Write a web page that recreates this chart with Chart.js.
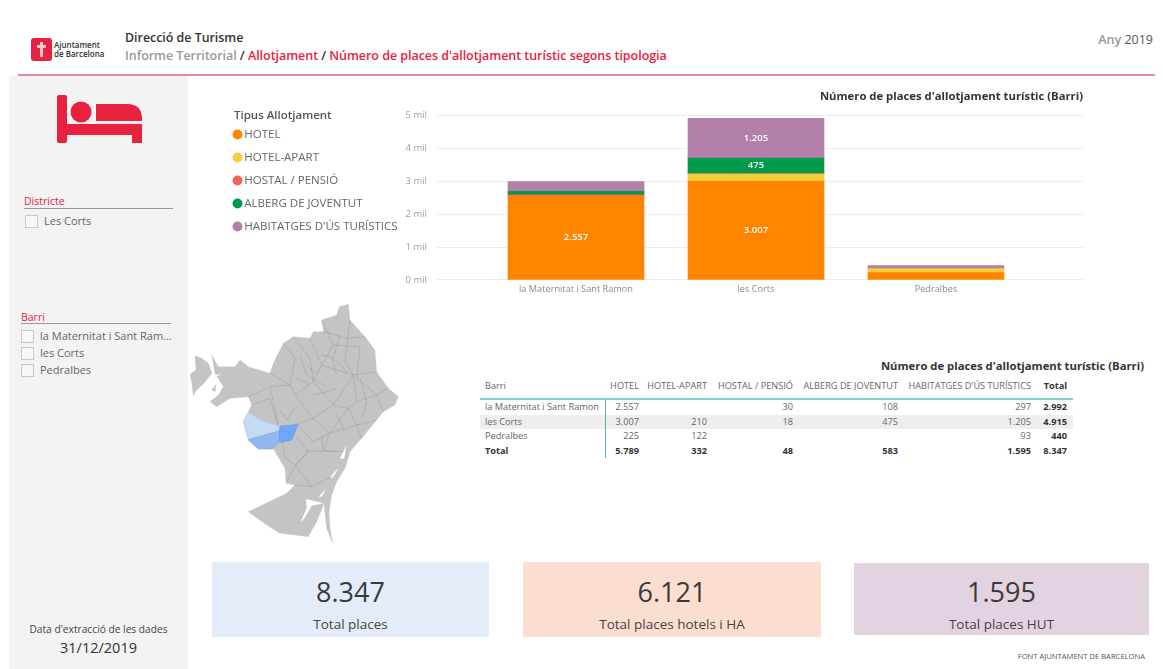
<!DOCTYPE html>
<html lang="ca">
<head>
<meta charset="utf-8">
<title>Número de places d'allotjament turístic</title>
<script src="https://cdn.jsdelivr.net/npm/chart.js@4"></script>
<style>
    html, body { margin: 0; padding: 0; background: #fff; }
    body { width: 1163px; height: 669px; position: relative; overflow: hidden; font-family: "Open Sans", sans-serif; color: #333; }
    .abs { position: absolute; white-space: nowrap; }
    .sidebar { left: 9px; top: 76px; width: 179px; height: 593px; background: #f3f3f3; }
    .rule { left: 18px; top: 74px; width: 1137px; height: 2px; background: #e8899b; }
    .slicer-title { color: #e8213f; font-size: 10.5px; line-height: 14px; }
    .slicer-line { height: 1px; background: #999; }
    .box { width: 11px; height: 11px; border: 1px solid #c8c8c8; background: #f7f7f7; }
    .slicer-item { color: #666; font-size: 11px; line-height: 14px; }
    .card { text-align: center; }
    .card .num { position: absolute; left: 0; right: 0; font-size: 27px; line-height: 34px; color: #3a3a3a; }
    .card .lab { position: absolute; left: 0; right: 0; font-size: 13.5px; line-height: 20px; color: #444; }
    #taula { left: 480px; top: 378px; border-collapse: collapse; font-size: 9.2px; color: #666; table-layout: fixed; }
    #taula th { font-weight: 400; height: 14px; padding: 0 2px 6px 0; text-align: right; border-bottom: 2px solid #7fd0cc; }
    #taula td { height: 14.5px; line-height: 14px; padding: 0 2px 0 0; text-align: right; }
    #taula th:first-child, #taula td:first-child { text-align: left; padding-left: 5px; }
    #taula td:first-child { border-right: 1px solid #4fb8b2; }
    #taula th:last-child, #taula td:last-child { padding-right: 6px; }
    #taula tr.alt td { background: #eee; }
    #taula tr.tot td { font-weight: 700; color: #333; }
    #taula .t { font-weight: 700; color: #333; }
</style>
</head>
<body>
<div class="abs sidebar"></div>
<div class="abs rule"></div>

<svg class="abs" style="left:31px;top:38px" width="21" height="23" viewBox="0 0 21 23">
    <rect width="21" height="23" rx="3" fill="#e8213f"/>
    <path d="M9 4h3v3h3v3h-3v9H9v-9H6V7h3z" fill="#f7c9cf"/>
</svg>
<div class="abs" style="left:54px;top:40px;font-size:8px;line-height:9px;font-weight:600;color:#333">Ajuntament<br>de Barcelona</div>
<div class="abs" style="left:125px;top:29px;font-size:12.4px;line-height:18px;font-weight:600;color:#333">Direcció de Turisme</div>
<div class="abs" style="left:125px;top:47px;font-size:12.5px;line-height:18px;font-weight:600;letter-spacing:-0.04px;color:#e8213f"><span style="color:#999">Informe Territorial</span><span style="color:#333"> / </span>Allotjament<span style="color:#333"> / </span>Número de places d'allotjament turístic segons tipologia</div>
<div class="abs" style="right:10px;top:31px;font-size:12.5px;line-height:18px;color:#555"><span style="color:#999;font-weight:600">Any</span> 2019</div>

<svg class="abs" style="left:57px;top:95px" width="86" height="49" viewBox="0 0 86 49" fill="#e8213f">
    <rect x="0" y="0" width="10" height="48" rx="2"/>
    <rect x="0" y="29" width="85" height="11"/>
    <rect x="75" y="29" width="10" height="19"/>
    <circle cx="24" cy="17" r="10.5"/>
    <path d="M39 9h31q15 0 15 15v2H39z"/>
</svg>

<div class="abs slicer-title" style="left:24px;top:194px">Districte</div>
<div class="abs slicer-line" style="left:24px;top:208px;width:149px"></div>
<div class="abs box" style="left:25px;top:215px"></div>
<div class="abs slicer-item" style="left:44px;top:214px">Les Corts</div>

<div class="abs slicer-title" style="left:21px;top:310px">Barri</div>
<div class="abs slicer-line" style="left:21px;top:323px;width:150px"></div>
<div class="abs box" style="left:21px;top:330px"></div>
<div class="abs slicer-item" style="left:40px;top:329px">la Maternitat i Sant Ram...</div>
<div class="abs box" style="left:21px;top:347px"></div>
<div class="abs slicer-item" style="left:40px;top:346px">les Corts</div>
<div class="abs box" style="left:21px;top:364px"></div>
<div class="abs slicer-item" style="left:40px;top:363px">Pedralbes</div>

<div class="abs" style="left:9px;width:179px;top:622px;text-align:center;font-size:10.2px;line-height:14px;color:#444">Data d'extracció de les dades</div>
<div class="abs" style="left:9px;width:179px;top:638px;text-align:center;font-size:14.5px;line-height:20px;color:#333">31/12/2019</div>

<canvas id="grafic" class="abs" style="left:225px;top:85px" width="860" height="214"></canvas>

<svg class="abs" style="left:180px;top:295px" width="240" height="260" viewBox="0 0 720 780">
    <g fill="#c4c4c4" stroke="#c4c4c4" stroke-width="1" stroke-linejoin="round">
        <path d="M45 182L65 190L85 205L96 235L72 265L50 285L40 302L35 262L30 238L48 225Z"/>
        <path d="M95 285L108 268L106 290Z"/>
        <path d="M478 35L505 28L510 75L555 125L585 165L590 230L625 280L655 305L645 330L610 350L590 375L565 405L545 430L510 470L495 520L470 560L455 600L447 650L450 700L458 745L440 700L432 625L410 680L385 725L300 715L260 690L205 650L320 595L345 570L318 565L315 520L280 462L235 462L205 435L190 380L205 350L215 330L205 305L150 310L110 335L90 320L115 300L130 275L105 235L95 180L115 215L165 215L180 195L205 215L270 235L280 205L310 145L340 125L390 130L400 110L430 110L425 75L470 60Z"/>
    </g>
    <g fill="#fff">
        <path d="M362 680L380 640L378 612L430 625L395 632L372 672Z"/>
        <path d="M415 605L440 580L425 605Z"/>
        <path d="M450 545L475 520L458 550Z"/>
        <path d="M480 490L500 450L492 492Z"/>
        <path d="M100 240L125 238L105 245Z"/>
    </g>
    <g fill="none" stroke="#979797" stroke-width="1.3">
        <path d="M270 235L330 270L345 300L400 370L350 388"/>
        <path d="M205 305L270 275L330 270"/>
        <path d="M270 275L285 345L295 395"/>
        <path d="M310 145L345 190L330 270"/>
        <path d="M340 125L390 190L400 260L345 300"/>
        <path d="M390 130L425 210L400 260L460 330L400 370"/>
        <path d="M425 75L460 150L425 210L520 240L460 330"/>
        <path d="M430 110L500 130L555 125"/>
        <path d="M510 75L495 200L520 240L590 230"/>
        <path d="M460 150L540 155L530 250L590 300L625 280"/>
        <path d="M520 240L530 320L590 300L610 350"/>
        <path d="M460 330L505 340L530 320"/>
        <path d="M505 340L530 390L590 375"/>
        <path d="M400 370L450 415L505 340"/>
        <path d="M450 415L530 390L545 430"/>
        <path d="M350 388L400 440L450 415L430 465"/>
        <path d="M380 468L490 470"/>
        <path d="M350 425L385 470L345 510L315 490"/>
        <path d="M345 510L395 575L465 540"/>
        <path d="M385 470L345 515L320 560"/>
        <path d="M345 570L395 575"/>
        <path d="M425 420L430 465L470 470"/>
        <path d="M305 425L315 490"/>
        <path d="M215 330L270 310L295 395"/>
        <path d="M360 180L380 240L430 270"/>
        <path d="M350 250L385 265L375 285"/>
        <path d="M480 120L460 190L500 230"/>
        <path d="M300 345L320 375L345 340"/>
        <path d="M420 180L455 185L470 240"/>
        <path d="M400 300L440 290L470 280"/>
        <path d="M540 250L560 320L545 370"/>
        <path d="M470 360L490 400"/>
        <path d="M375 210L410 235"/>
    </g>
    <path d="M190 380L205 350L240 375L297 393L297 407L205 432Z" fill="#c5daf7" stroke="#9dbde8" stroke-width="1"/>
    <path d="M205 435L297 408L300 440L275 462L235 462Z" fill="#8fb7f0" stroke="#6f97d0" stroke-width="1"/>
    <path d="M300 393L355 388L335 435L300 443L297 420Z" fill="#6fa6f5" stroke="#5f86c0" stroke-width="1"/>
</svg>

<div class="abs" style="right:19px;top:358px;font-size:11.3px;line-height:16px;font-weight:700;color:#333">Número de places d'allotjament turístic (Barri)</div>
<table id="taula" class="abs"></table>

<div id="targetes"></div>
<div class="abs" style="right:18px;top:650px;font-size:7.6px;line-height:12px;color:#555">FONT AJUNTAMENT DE BARCELONA</div>

<script>
const barris = ["la Maternitat i Sant Ramon", "les Corts", "Pedralbes"];
const tipus = ["HOTEL", "HOTEL-APART", "HOSTAL / PENSIÓ", "ALBERG DE JOVENTUT", "HABITATGES D'ÚS TURÍSTICS"];
const hotel = [2557, 3007, 225];
const hotelApart = [null, 210, 122];
const hostal = [30, 18, null];
const alberg = [108, 475, null];
const habitatges = [297, 1205, 93];
const totalsBarri = [2992, 4915, 440];
const totalsTipus = [5789, 332, 48, 583, 1595];
const totalGeneral = 8347;
const colors = ["#ff8500", "#f5ce3e", "#f4605a", "#009a4b", "#b280a8"];
const yTicks = [0, 1000, 2000, 3000, 4000, 5000];
const kpiValues = [8347, 6121, 1595];
const kpiLabels = ["Total places", "Total places hotels i HA", "Total places HUT"];
const kpiColors = ["#e3ecf8", "#fbded0", "#e3d3e0"];
const kpiBoxes = [[212, 562, 277, 75], [523, 562, 298, 75], [854, 563, 295, 72]];
const columnWidths = [125, 36, 68, 86, 105, 133, 40];

const series = [hotel, hotelApart, hostal, alberg, habitatges];

function formatNumber(value) {
    if (value === null) {
        return "";
    }

    return String(value).replace(/\B(?=(\d{3})+$)/g, ".");
}

function buildTable() {
    const table = document.getElementById("taula");
    let html = "<colgroup>" + columnWidths.map((w) => `<col style="width:${w}px">`).join("") + "</colgroup>";

    html += `<tr><th>Barri</th>${tipus.map((t) => `<th>${t}</th>`).join("")}<th class="t">Total</th></tr>`;

    barris.forEach((barri, i) => {
        const cells = series.map((s) => `<td>${formatNumber(s[i])}</td>`).join("");

        html += `<tr class="${i === 1 ? "alt" : ""}"><td>${barri}</td>${cells}<td class="t">${formatNumber(totalsBarri[i])}</td></tr>`;
    });

    html += `<tr class="tot"><td>Total</td>${totalsTipus.map((v) => `<td>${formatNumber(v)}</td>`).join("")}<td>${formatNumber(totalGeneral)}</td></tr>`;
    table.style.width = columnWidths.reduce((a, b) => a + b, 0) + "px";
    table.innerHTML = html;
}

function buildCards() {
    document.getElementById("targetes").innerHTML = kpiValues.map((value, i) => {
        const [x, y, w, h] = kpiBoxes[i];

        return `<div class="abs card" style="left:${x}px;top:${y}px;width:${w}px;height:${h}px;background:${kpiColors[i]}">
            <div class="num" style="top:${575 - y}px">${formatNumber(value)}</div><div class="lab" style="top:${614 - y}px">${kpiLabels[i]}</div></div>`;
    }).join("");
}

const barLabels = {
    id: "barLabels",
    afterDatasetsDraw(chart) {
        const { ctx } = chart;

        ctx.save();
        ctx.fillStyle = "#fff";
        ctx.font = "600 9.5px 'Open Sans'";
        ctx.textAlign = "center";
        ctx.textBaseline = "middle";

        chart.data.datasets.forEach((dataset, d) => {
            chart.getDatasetMeta(d).data.forEach((bar, i) => {
                if (dataset.data[i] >= 400) {
                    ctx.fillText(formatNumber(dataset.data[i]), bar.x, (bar.y + bar.base) / 2);
                }
            });
        });
        ctx.restore();
    },
};

function initChart() {
    new Chart(document.getElementById("grafic"), {
        type: "bar",
        plugins: [barLabels],
        data: {
            labels: barris.map((_, i) => i),
            datasets: tipus.map((label, i) => ({
                label,
                data: series[i],
                backgroundColor: colors[i],
                barThickness: 136,
            })),
        },
        options: {
            responsive: false,
            animation: false,
            layout: { padding: { left: 0, right: 2, top: 0, bottom: 0 } },
            plugins: {
                tooltip: { enabled: false },
                title: {
                    display: true,
                    text: "Número de places d'allotjament turístic (Barri)",
                    align: "end",
                    color: "#333",
                    font: { family: "'Open Sans'", size: 11.3, weight: "700" },
                    padding: { top: 5, bottom: 12 },
                },
                legend: {
                    position: "left",
                    align: "start",
                    maxWidth: 180,
                    title: {
                        display: true,
                        // the nbsp push the title in line with the reference, the legend has no x offset for it
                        text: "\u00a0\u00a0\u00a0Tipus Allotjament",
                        position: "start",
                        color: "#555",
                        font: { family: "'Open Sans'", size: 11.5, weight: "600" },
                        padding: { top: 25, bottom: -6.5 },
                    },
                    labels: {
                        usePointStyle: true,
                        pointStyle: "circle",
                        boxWidth: 2,
                        boxHeight: 7,
                        padding: 11.5,
                        color: "#666",
                        font: { family: "'Open Sans'", size: 11.5 },
                    },
                },
            },
            scales: {
                x: {
                    type: "linear",
                    offset: false,
                    stacked: true,
                    min: -0.778,
                    max: 2.817,
                    afterBuildTicks(scale) {
                        scale.ticks = barris.map((_, i) => ({ value: i }));
                    },
                    grid: { display: false, drawTicks: false },
                    border: { display: false },
                    ticks: {
                        color: "#8a8a8a",
                        autoSkip: false,
                        maxRotation: 0,
                        padding: 4,
                        font: { family: "'Open Sans'", size: 9.2 },
                        callback(value) {
                            return barris[value];
                        },
                    },
                },
                y: {
                    stacked: true,
                    min: 0,
                    max: 5000,
                    afterBuildTicks(scale) {
                        scale.ticks = yTicks.map((value) => ({ value }));
                    },
                    afterFit(scale) {
                        scale.width = 31;
                    },
                    grid: { color: "#ececec", drawTicks: false },
                    border: { display: false },
                    ticks: {
                        color: "#a0a0a0",
                        padding: 9,
                        font: { family: "'Open Sans'", size: 9.5 },
                        callback(value) {
                            return `${value / 1000} mil`;
                        },
                    },
                },
            },
        },
    });
}

buildTable();
buildCards();
initChart();
</script>
</body>
</html>
